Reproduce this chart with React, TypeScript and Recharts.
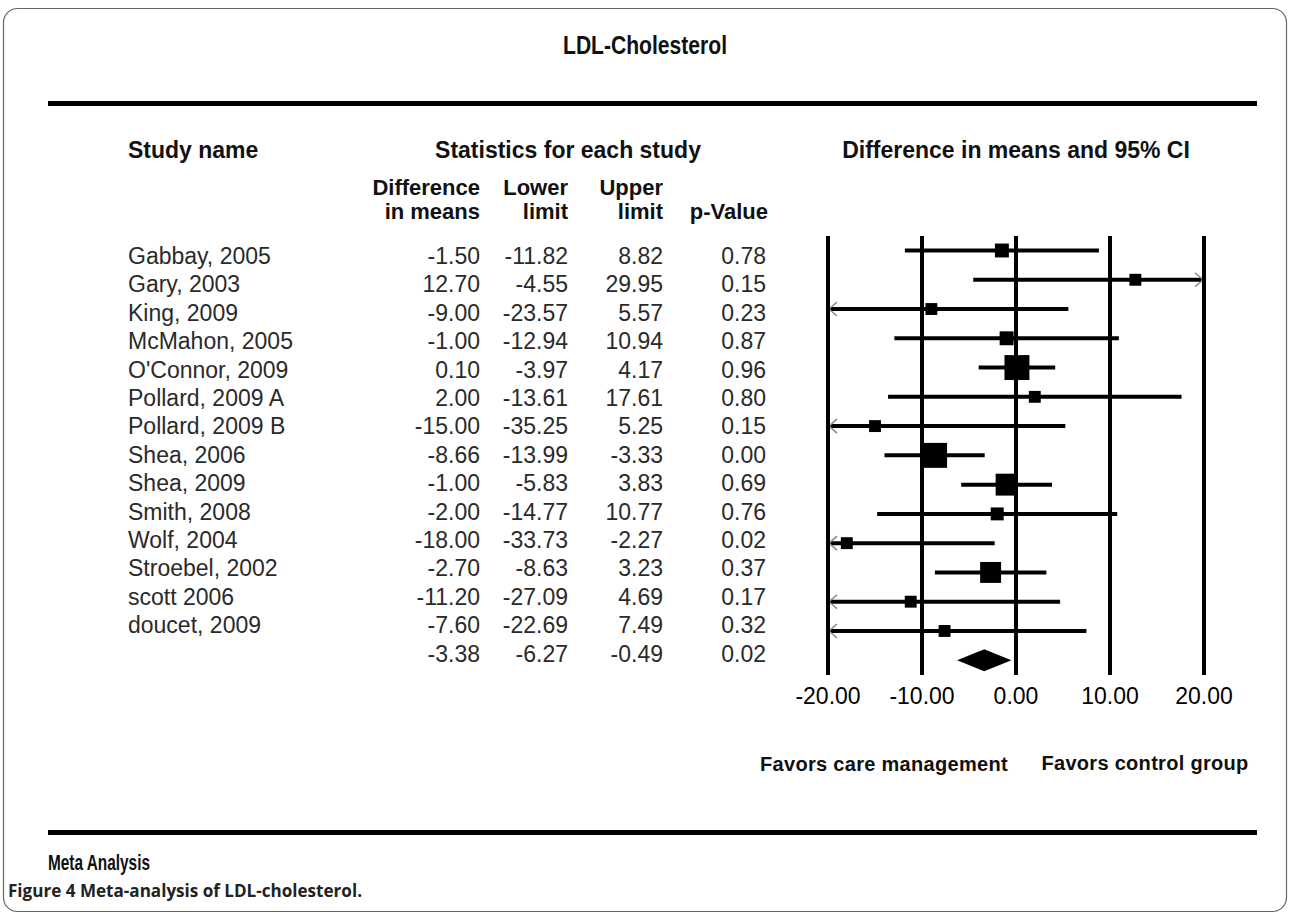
import React from 'react';
import { ComposedChart, Bar, XAxis, YAxis, ReferenceLine } from 'recharts';

// study rows
const studies = [
  'Gabbay, 2005', 'Gary, 2003', 'King, 2009', 'McMahon, 2005', "O'Connor, 2009",
  'Pollard, 2009 A', 'Pollard, 2009 B', 'Shea, 2006', 'Shea, 2009', 'Smith, 2008',
  'Wolf, 2004', 'Stroebel, 2002', 'scott 2006', 'doucet, 2009',
];
const diffs = [-1.5, 12.7, -9.0, -1.0, 0.1, 2.0, -15.0, -8.66, -1.0, -2.0, -18.0, -2.7, -11.2, -7.6];
const lowers = [-11.82, -4.55, -23.57, -12.94, -3.97, -13.61, -35.25, -13.99, -5.83, -14.77, -33.73, -8.63, -27.09, -22.69];
const uppers = [8.82, 29.95, 5.57, 10.94, 4.17, 17.61, 5.25, -3.33, 3.83, 10.77, -2.27, 3.23, 4.69, 7.49];
const pValues = [0.78, 0.15, 0.23, 0.87, 0.96, 0.8, 0.15, 0.0, 0.69, 0.76, 0.02, 0.37, 0.17, 0.32];
// relative weights (%)
const weights = [5.2, 3.8, 3.8, 5.2, 16.7, 3.8, 3.8, 16.7, 12.9, 4.5, 3.8, 11.8, 3.8, 3.8];
const pooled = { diff: -3.38, lower: -6.27, upper: -0.49, p: 0.02 };
const xTicks = [-20, -10, 0, 10, 20];

const X_MIN = -20;
const X_MAX = 20;
const FONT = '"Liberation Sans", Arial, sans-serif';
// the table text sits on a slightly tighter pitch than the plot rows
const TABLE_TOP = 256;
const TABLE_PITCH = 28.4;

const rows = [
  ...studies.map((name, i) => ({
    id: i,
    name,
    diff: diffs[i],
    lower: lowers[i],
    upper: uppers[i],
    p: pValues[i],
    weight: weights[i],
    summary: false,
  })),
  { id: studies.length, name: '', ...pooled, weight: 0, summary: true },
].map((r) => ({
  ...r,
  range: [Math.max(r.lower, X_MIN), Math.min(r.upper, X_MAX)],
  clipLo: r.lower < X_MIN,
  clipHi: r.upper > X_MAX,
}));

const fmt = (v: number) => v.toFixed(2);

const ForestMark = (props: any) => {
  const { x, y, width, height, payload } = props;
  const cy = y + height / 2;
  const [lo, hi] = payload.range;
  const ex = x + (width * (payload.diff - lo)) / (hi - lo);
  if (payload.summary) {
    return (
      <polygon
        points={`${x},${cy} ${ex},${cy - 11} ${x + width},${cy} ${ex},${cy + 11}`}
        fill="#000"
      />
    );
  }
  const s = Math.sqrt(payload.weight) * 6.1;
  return (
    <g>
      <line x1={x} x2={x + width} y1={cy} y2={cy} stroke="#000" strokeWidth={4} />
      {payload.clipLo && (
        <path d={`M${x + 9},${cy - 7} L${x + 1},${cy} L${x + 9},${cy + 7}`} stroke="#888" strokeWidth={1.5} fill="none" />
      )}
      {payload.clipHi && (
        <path d={`M${x + width - 9},${cy - 7} L${x + width - 1},${cy} L${x + width - 9},${cy + 7}`} stroke="#888" strokeWidth={1.5} fill="none" />
      )}
      <rect x={ex - s / 2} y={cy - s / 2} width={s} height={s} fill="#000" />
    </g>
  );
};

const RowTick = (props: any) => {
  const { payload } = props;
  const r = rows[payload.value];
  if (!r) return null;
  const ty = TABLE_TOP + r.id * TABLE_PITCH;
  return (
    <g fontFamily={FONT} fontSize={23} fill="#2a2a2a">
      <text x={128} y={ty} dominantBaseline="central">{r.name}</text>
      <text x={480} y={ty} textAnchor="end" dominantBaseline="central">{fmt(r.diff)}</text>
      <text x={568} y={ty} textAnchor="end" dominantBaseline="central">{fmt(r.lower)}</text>
      <text x={663} y={ty} textAnchor="end" dominantBaseline="central">{fmt(r.upper)}</text>
      <text x={766} y={ty} textAnchor="end" dominantBaseline="central">{fmt(r.p)}</text>
    </g>
  );
};

const Frame = () => (
  <svg width={1290} height={919} style={{ position: 'absolute', left: 0, top: 0 }}>
    <rect x={3.5} y={8.5} width={1283} height={903} rx={14} fill="#fff" stroke="#666" strokeWidth={1.2} />
    <g fontFamily={FONT} fill="#111">
      <text x={645} y={45} textAnchor="middle" dominantBaseline="central" fontSize={25} fontWeight="bold"
        textLength={164} lengthAdjust="spacingAndGlyphs">
        LDL-Cholesterol
      </text>
      <rect x={48} y={101} width={1209} height={5} fill="#000" />
      <g fontSize={23} fontWeight="bold">
        <text x={128} y={150} dominantBaseline="central">Study name</text>
        <text x={568} y={150} textAnchor="middle" dominantBaseline="central">Statistics for each study</text>
        <text x={1016} y={150} textAnchor="middle" dominantBaseline="central">Difference in means and 95% CI</text>
      </g>
      <g fontSize={22} fontWeight="bold">
        <text x={480} y={187} textAnchor="end" dominantBaseline="central">Difference</text>
        <text x={480} y={211} textAnchor="end" dominantBaseline="central">in means</text>
        <text x={568} y={187} textAnchor="end" dominantBaseline="central">Lower</text>
        <text x={568} y={211} textAnchor="end" dominantBaseline="central">limit</text>
        <text x={663} y={187} textAnchor="end" dominantBaseline="central">Upper</text>
        <text x={663} y={211} textAnchor="end" dominantBaseline="central">limit</text>
        <text x={768} y={211} textAnchor="end" dominantBaseline="central">p-Value</text>
      </g>
      <g fontSize={20} fontWeight="bold" letterSpacing={0.3}>
        <text x={884} y={764} textAnchor="middle" dominantBaseline="central">Favors care management</text>
        <text x={1145} y={763} textAnchor="middle" dominantBaseline="central">Favors control group</text>
      </g>
      <rect x={48} y={830} width={1209} height={5} fill="#000" />
      <text x={48} y={862} dominantBaseline="central" fontSize={22} fontWeight="bold"
        textLength={102} lengthAdjust="spacingAndGlyphs">
        Meta Analysis
      </text>
    </g>
    <text x={8} y={890} dominantBaseline="central" fontFamily='"Open Sans", sans-serif' fontSize={18} fontWeight="bold" fill="#222"
      textLength={354} lengthAdjust="spacingAndGlyphs">
      Figure 4 Meta-analysis of LDL-cholesterol.
    </text>
  </svg>
);

export default function App() {
  return (
    <div style={{ position: 'absolute', left: 0, top: 0, width: 1290, height: 919, background: '#fff', overflow: 'hidden' }}>
      <Frame />
      <div style={{ position: 'absolute', left: 0, top: 0 }}>
        <ComposedChart
          width={1290}
          height={919}
          data={rows}
          layout="vertical"
          barCategoryGap={0}
          margin={{ top: 236, right: 86, bottom: 204, left: 0 }}
          style={{ fontFamily: FONT }}
        >
          <XAxis
            type="number"
            domain={[X_MIN, X_MAX]}
            ticks={xTicks}
            tickFormatter={fmt}
            axisLine={false}
            tickLine={false}
            tickMargin={7}
            height={40}
            tick={{ fontSize: 23, fill: '#000' }}
            allowDataOverflow
          />
          <YAxis
            type="category"
            dataKey="id"
            width={828}
            axisLine={false}
            tickLine={false}
            interval={0}
            tick={<RowTick />}
          />
          {xTicks.map((t) => (
            <ReferenceLine key={t} x={t} stroke="#000" strokeWidth={4} />
          ))}
          <Bar dataKey="range" shape={<ForestMark />} isAnimationActive={false} />
        </ComposedChart>
      </div>
    </div>
  );
}
